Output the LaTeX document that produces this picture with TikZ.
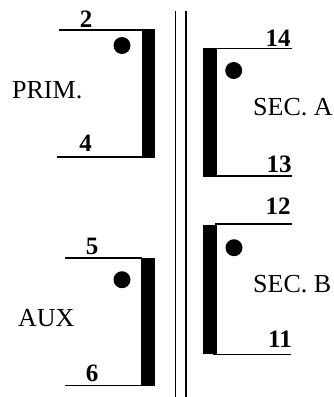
\documentclass[tikz,border=0pt]{standalone}
\usepackage{fontspec}
\setmainfont{Liberation Serif}
\tikzset{
  x=1pt,y=-1pt,
  lead/.style={line width=1.3pt,black},
  core/.style={line width=1.3pt,black},
  bar/.style={fill=black,draw=none},
  pol/.style={circle,fill=black,draw=none,minimum size=17pt,inner sep=0pt},
  pin/.style={font=\fontsize{25}{25}\selectfont\bfseries,anchor=base,inner sep=0pt},
  lab/.style={font=\fontsize{26}{26}\selectfont,anchor=base west,inner sep=0pt},
}
\begin{document}
\begin{tikzpicture}
\useasboundingbox (0,0) rectangle (334,397);
% core
\coordinate (c1t) at (175.5,11); \coordinate (c1b) at (175.5,397);
\coordinate (c2t) at (186,11);   \coordinate (c2b) at (186,397);
\draw[core] (c1t) -- (c1b);
\draw[core] (c2t) -- (c2b);
% PRIM
\fill[bar] (141.5,29) rectangle (155,157.5);
\coordinate (p2) at (59,30);    \coordinate (p2e) at (142,30);
\coordinate (p4) at (57,157);   \coordinate (p4e) at (142,157);
\draw[lead] (p2) -- (p2e);
\draw[lead] (p4) -- (p4e);
\node[pol] (dotp) at (122,45.5) {};
\node[pin] (n2) at (86,27) {2};
\node[pin] (n4) at (85.5,151.7) {4};
\node[lab] (prim) at (12,98) {PRIM.};
% AUX
\fill[bar] (141,257.5) rectangle (154.5,386);
\coordinate (p5) at (65,258);   \coordinate (p5e) at (142,258);
\coordinate (p6) at (65,385.5); \coordinate (p6e) at (142,385.5);
\draw[lead] (p5) -- (p5e);
\draw[lead] (p6) -- (p6e);
\node[pol] (dota) at (122,279.7) {};
\node[pin] (n5) at (92,254.3) {5};
\node[pin] (n6) at (92,381) {6};
\node[lab] (aux) at (18,326) {AUX};
% SEC A
\fill[bar] (203,47.5) rectangle (216.5,177);
\coordinate (p14) at (291.5,48.5); \coordinate (p14e) at (216,48.5);
\coordinate (p13) at (292,176);    \coordinate (p13e) at (216,176);
\draw[lead] (p14) -- (p14e);
\draw[lead] (p13) -- (p13e);
\node[pol] (dots) at (233.7,70.5) {};
\node[pin] (n14) at (278,46) {14};
\node[pin] (n13) at (279,172) {13};
\node[lab] (seca) at (253,115) {SEC. A};
% SEC B
\fill[bar] (203,224.7) rectangle (216.5,353.7);
\coordinate (p12) at (292,224);    \coordinate (p12e) at (215,224);
\coordinate (p11) at (290.5,354.5);\coordinate (p11e) at (213,354.5);
\draw[lead] (p12) -- (p12e);
\draw[lead] (p11) -- (p11e);
\node[pol] (dotb) at (234,247.7) {};
\node[pin] (n12) at (278,214) {12};
\node[pin] (n11) at (280,347.7) {11};
\node[lab] (secb) at (253,292) {SEC. B};
\end{tikzpicture}
\end{document}
